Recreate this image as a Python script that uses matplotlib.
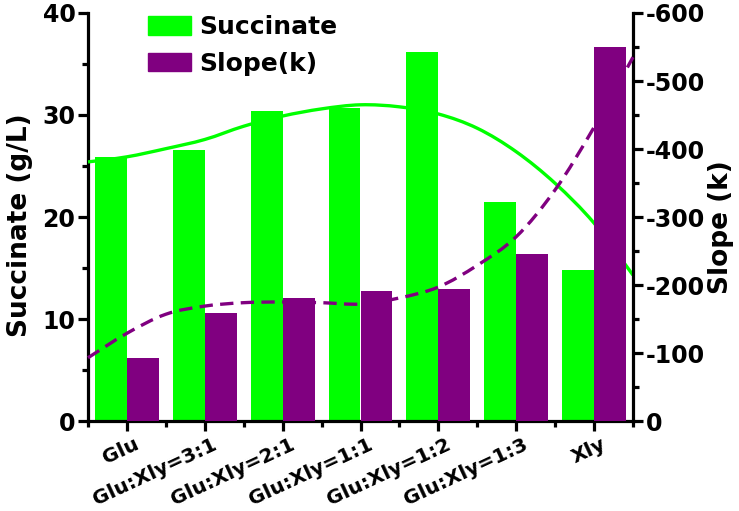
import numpy as np
import matplotlib
matplotlib.use("Agg")
import matplotlib.pyplot as plt
import matplotlib.transforms as mtransforms
from matplotlib.patches import Patch, PathPatch
from matplotlib.path import Path
from matplotlib.ticker import MultipleLocator

categories = ["Glu", "Glu:Xly=3:1", "Glu:Xly=2:1", "Glu:Xly=1:1",
              "Glu:Xly=1:2", "Glu:Xly=1:3", "Xly"]
succinate = [25.9, 26.6, 30.4, 30.7, 36.2, 21.5, 14.8]
slope = [-93, -159, -181, -191, -194, -246, -550]

# smooth trend curves at half-category steps
curve_x = [-0.5, 0, 0.5, 1, 1.5, 2, 2.5, 3, 3.5, 4, 4.5, 5, 5.5, 6, 6.5]
succ_curve = [25.4, 25.9, 26.7, 27.6, 28.9, 29.9, 30.6, 31.0, 30.8, 30.1,
              28.7, 26.4, 23.3, 19.4, 14.3]
slope_curve = [-93, -129, -157, -169, -174, -175, -174, -172, -181, -197,
               -229, -271, -340, -432, -535]

green = "#00FF00"
purple = "#800080"

plt.rcParams['font.family'] = ['DejaVu Sans']
plt.rcParams['font.weight'] = 'bold'
plt.rcParams['axes.unicode_minus'] = False


def smooth_path(xs, ys):
    p = np.column_stack([xs, ys]).astype(float)
    ext = np.vstack([p[0], p, p[-1]])
    verts = [tuple(p[0])]
    codes = [Path.MOVETO]
    for i in range(1, len(ext) - 2):
        p0, p1, p2, p3 = ext[i - 1], ext[i], ext[i + 1], ext[i + 2]
        c1 = p1 + (p2 - p0) / 6.0
        c2 = p2 - (p3 - p1) / 6.0
        verts += [tuple(c1), tuple(c2), tuple(p2)]
        codes += [Path.CURVE4] * 3
    return Path(verts, codes)


fig = plt.figure(figsize=(7.39, 5.11), dpi=100)
ax = fig.add_axes([88/739, 1-421/511, (633-88)/739, (421-13)/511])
ax2 = ax.twinx()

x = np.arange(len(categories))
w = 0.41
ax.bar(x - w/2, succinate, width=w, color=green, zorder=2)
ax2.bar(x + w/2, slope, width=w, color=purple, zorder=2)

ax.add_patch(PathPatch(smooth_path(curve_x, succ_curve), fill=False,
                       edgecolor=green, lw=2.4, zorder=3, clip_on=False))
ax2.add_patch(PathPatch(smooth_path(curve_x, slope_curve), fill=False,
                        edgecolor=purple, lw=2.4, ls=(0, (4, 2.2)), zorder=3,
                        clip_on=False))

ax.set_xlim(-0.5, 6.5)
ax.set_ylim(0, 40)
ax2.set_ylim(0, -600)

for a in (ax, ax2):
    a.spines['top'].set_visible(False)
    for s in a.spines.values():
        s.set_linewidth(2.3)
ax.spines['right'].set_visible(False)
ax2.spines['left'].set_visible(False)
ax2.spines['bottom'].set_visible(False)

ax.yaxis.set_major_locator(MultipleLocator(10))
ax.yaxis.set_minor_locator(MultipleLocator(5))
ax2.yaxis.set_major_locator(MultipleLocator(100))
ax2.yaxis.set_minor_locator(MultipleLocator(50))
ax.set_xticks(x)
ax.set_xticks(np.arange(-0.5, 7, 1), minor=True)

ax.tick_params(axis='y', which='major', direction='out', length=7, width=2.3, labelsize=17, pad=2)
ax.tick_params(axis='y', which='minor', direction='out', length=4, width=2.3)
ax2.tick_params(axis='y', which='major', direction='out', length=7, width=2.3, labelsize=17, pad=2)
ax2.tick_params(axis='y', which='minor', direction='out', length=4, width=2.3)
ax.tick_params(axis='x', which='major', direction='out', length=7, width=2.3, labelsize=14.5, pad=3)
ax.tick_params(axis='x', which='minor', direction='out', length=4, width=2.3)

ax.set_xticklabels(categories, rotation=25, ha='right', fontweight='bold')
offset = mtransforms.ScaledTranslation(15/100, 0, fig.dpi_scale_trans)
for lab in ax.get_xticklabels():
    lab.set_transform(lab.get_transform() + offset)

ax.set_ylabel("Succinate (g/L)", fontsize=19, fontweight='bold')
ax.yaxis.set_label_coords(-0.10, 0.48)
ax2.set_ylabel("Slope (k)", fontsize=19, fontweight='bold', rotation=90)
ax2.yaxis.set_label_coords(1.138, 0.475)

handles = [Patch(color=green, label="Succinate"), Patch(color=purple, label="Slope(k)")]
ax.legend(handles=handles, loc='upper left', bbox_to_anchor=(0.068, 1.05), frameon=False,
          prop={'size': 18, 'weight': 'bold'}, handlelength=1.75, handleheight=0.75,
          handletextpad=0.3, labelspacing=0.5)

fig.savefig("out.png", dpi=100)
